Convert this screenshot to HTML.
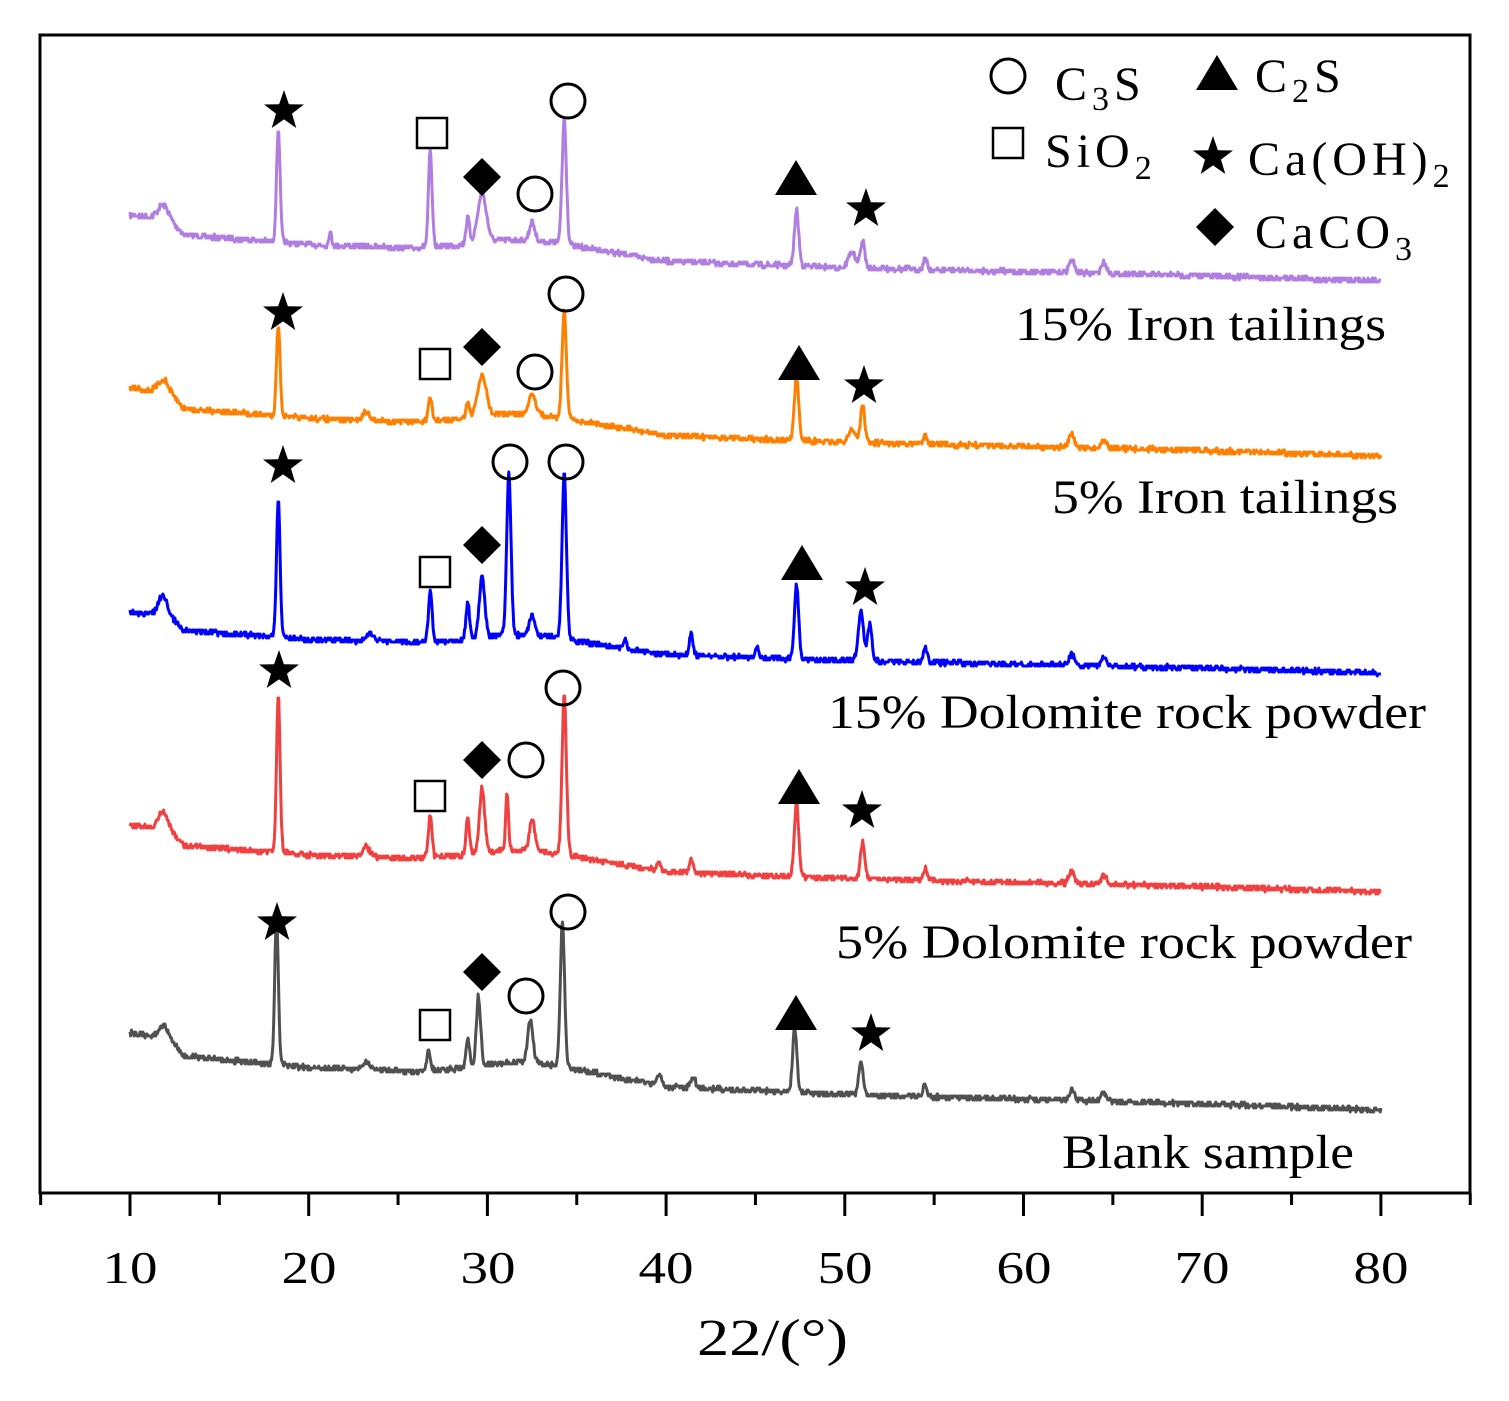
<!DOCTYPE html>
<html><head><meta charset="utf-8"><style>
html,body{margin:0;padding:0;background:#fff}
svg{display:block}
text{font-family:"Liberation Serif",serif;fill:#000}
</style></head><body>
<svg id="s" width="1509" height="1401" viewBox="0 0 1509 1401" xmlns="http://www.w3.org/2000/svg">
<rect x="40" y="35" width="1430" height="1158" fill="none" stroke="#000" stroke-width="3"/>
<g id="ticks" stroke="#000" stroke-width="3"></g>
<g font-size="46" text-anchor="middle">
<text x="130" y="1283" textLength="55" lengthAdjust="spacingAndGlyphs">10</text><text x="309" y="1283" textLength="55" lengthAdjust="spacingAndGlyphs">20</text><text x="488" y="1283" textLength="55" lengthAdjust="spacingAndGlyphs">30</text><text x="666" y="1283" textLength="55" lengthAdjust="spacingAndGlyphs">40</text><text x="845" y="1283" textLength="55" lengthAdjust="spacingAndGlyphs">50</text><text x="1024" y="1283" textLength="55" lengthAdjust="spacingAndGlyphs">60</text><text x="1202" y="1283" textLength="55" lengthAdjust="spacingAndGlyphs">70</text><text x="1381" y="1283" textLength="55" lengthAdjust="spacingAndGlyphs">80</text>
</g>
<text x="697" y="1355" font-size="52" textLength="151" lengthAdjust="spacingAndGlyphs">22/(°)</text>
<g id="traces" fill="none" stroke-width="3" stroke-linejoin="round"></g>
<g id="marks"></g>
<g font-size="48">
<text x="1015" y="340" textLength="371" lengthAdjust="spacingAndGlyphs">15% Iron tailings</text>
<text x="1052" y="513" textLength="346" lengthAdjust="spacingAndGlyphs">5% Iron tailings</text>
<text x="828" y="728" textLength="598" lengthAdjust="spacingAndGlyphs">15% Dolomite rock powder</text>
<text x="836" y="958" textLength="576" lengthAdjust="spacingAndGlyphs">5% Dolomite rock powder</text>
<text x="1062" y="1168" textLength="292" lengthAdjust="spacingAndGlyphs">Blank sample</text>
</g>
<g font-size="48" letter-spacing="5">
<text x="1055" y="100">C<tspan font-size="34" dy="10">3</tspan><tspan dy="-10">S</tspan></text>
<text x="1255" y="92">C<tspan font-size="34" dy="10">2</tspan><tspan dy="-10">S</tspan></text>
<text x="1045" y="167">SiO<tspan font-size="34" dy="12">2</tspan></text>
<text x="1248" y="175">Ca(OH)<tspan font-size="34" dy="12">2</tspan></text>
<text x="1255" y="248">CaCO<tspan font-size="34" dy="12">3</tspan></text>
</g>
</svg>
<script>
var NS="http://www.w3.org/2000/svg";
function X(d){return 130+(d-10)*17.87;}
var tk=document.getElementById('ticks');
for(var d=5;d<=85;d+=5){var l=document.createElementNS(NS,'line');var x=X(d);l.setAttribute('x1',x);l.setAttribute('x2',x);l.setAttribute('y1',1193);l.setAttribute('y2',(d%10==0)?1216:1205);tk.appendChild(l);}
var shape=[[10,0],[11.5,0.05],[12,0],[13,0.3],[20,0.45],[26,0.5],[29,0.45],[31,0.38],[33,0.4],[36,0.52],[40,0.7],[50,0.8],[60,0.86],[70,0.92],[80,1]];
function frac(d){for(var i=0;i<shape.length-1;i++){var a=shape[i],b=shape[i+1];if(d>=a[0]&&d<=b[0])return a[1]+(b[1]-a[1])*(d-a[0])/(b[0]-a[0]);}return 1;}
var seed=7;function rnd(){seed=(seed*16807)%2147483647;return seed/2147483647;}
var T=[
{c:"#b07ee0",y0:215,y1:281,p:[[11.8,10,0.3],[18.3,105,0.1],[21.2,12,0.08],[26.8,90,0.1],[28.9,25,0.1],[29.7,45,0.25],[32.5,18,0.15],[34.3,117,0.12],[47.3,52,0.12],[50.4,15,0.2],[51,25,0.12],[54.5,10,0.1],[62.7,12,0.15],[64.5,10,0.15]]},
{c:"#ff8000",y0:388,y1:456,p:[[11.8,8,0.3],[18.3,85,0.1],[23.2,8,0.2],[26.8,22,0.1],[28.9,15,0.1],[29.7,38,0.25],[32.5,20,0.2],[34.3,102,0.12],[47.3,60,0.12],[50.4,12,0.2],[51,35,0.12],[54.5,10,0.1],[62.7,12,0.15],[64.5,8,0.15]]},
{c:"#0000ff",y0:612,y1:673,p:[[11.8,16,0.25],[18.3,128,0.1],[23.4,8,0.2],[26.8,48,0.1],[28.9,35,0.1],[29.7,58,0.15],[31.2,150,0.12],[32.5,20,0.15],[34.3,155,0.12],[37.7,8,0.1],[41.4,22,0.1],[45.1,10,0.1],[47.3,70,0.12],[50.9,45,0.15],[51.4,35,0.12],[54.5,15,0.1],[62.7,10,0.15],[64.5,8,0.15]]},
{c:"#f04040",y0:825,y1:892,p:[[11.8,14,0.25],[18.3,145,0.1],[23.2,10,0.2],[26.8,40,0.1],[28.9,35,0.1],[29.7,60,0.15],[31.1,55,0.08],[32.5,30,0.15],[34.3,150,0.12],[39.6,8,0.1],[41.4,12,0.1],[47.3,70,0.12],[51,35,0.12],[54.5,12,0.1],[62.7,12,0.15],[64.5,8,0.15]]},
{c:"#505050",y0:1033,y1:1110,p:[[11.8,8,0.25],[18.2,140,0.1],[23.2,8,0.2],[26.7,18,0.1],[28.9,28,0.1],[29.5,65,0.12],[32.4,40,0.15],[34.2,135,0.12],[39.6,10,0.15],[41.5,10,0.15],[47.2,60,0.12],[50.9,30,0.12],[54.5,12,0.1],[62.7,10,0.15],[64.5,8,0.15]]}
];
var tr=document.getElementById('traces');
T.forEach(function(t){var pts=[];for(var d=10;d<=80.001;d+=0.04){var y=t.y0+(t.y1-t.y0)*frac(d);t.p.forEach(function(p){var z=(d-p[0])/p[2];y-=p[1]*Math.exp(-0.5*z*z)+p[1]*0.08/(1+z*z);});y+=(rnd()-0.5)*5;y=Math.round(y/2)*2;pts.push(X(d).toFixed(1)+","+y);}
var pl=document.createElementNS(NS,'polyline');pl.setAttribute('points',pts.join(' '));pl.setAttribute('stroke',t.c);tr.appendChild(pl);});
var mk=document.getElementById('marks');
function star(cx,cy,r){var s="";for(var i=0;i<10;i++){var rr=i%2?r*0.4:r;var a=-Math.PI/2+i*Math.PI/5;s+=(cx+rr*Math.cos(a)).toFixed(1)+","+(cy+rr*Math.sin(a)).toFixed(1)+" ";}return '<polygon points="'+s+'" fill="#000"/>';}
function circ(x,y){return '<circle cx="'+x+'" cy="'+y+'" r="17" fill="none" stroke="#000" stroke-width="3"/>';}
function sq(x,y){return '<rect x="'+(x-15)+'" y="'+(y-15)+'" width="30" height="30" fill="none" stroke="#000" stroke-width="2.5"/>';}
function dia(x,y){return '<polygon points="'+x+','+(y-19)+' '+(x+19)+','+y+' '+x+','+(y+19)+' '+(x-19)+','+y+'" fill="#000"/>';}
function tri(x,y){return '<polygon points="'+x+','+(y-18)+' '+(x+21)+','+(y+17)+' '+(x-21)+','+(y+17)+'" fill="#000"/>';}
var R=21,h="";
h+=star(284,111,R)+sq(432,133)+dia(482,177)+circ(535,194)+circ(568,101)+tri(796,178)+star(866,209,R);
h+=star(283,313,R)+sq(435,364)+dia(482,347)+circ(535,372)+circ(566,294)+tri(799,363)+star(864,386,R);
h+=star(283,466,R)+circ(510,462)+circ(566,462)+dia(482,545)+sq(435,572)+tri(802,563)+star(865,588,R);
h+=star(279,671,R)+circ(563,688)+circ(526,760)+dia(482,760)+sq(430,796)+tri(799,787)+star(862,811,R);
h+=star(277,923,R)+circ(568,912)+dia(482,972)+circ(526,996)+sq(435,1025)+tri(796,1013)+star(871,1034,R);
h+=circ(1008,76)+tri(1217,73)+sq(1008,143)+star(1213,157,R)+dia(1215,227);
mk.innerHTML=h;
</script>
</body></html>
